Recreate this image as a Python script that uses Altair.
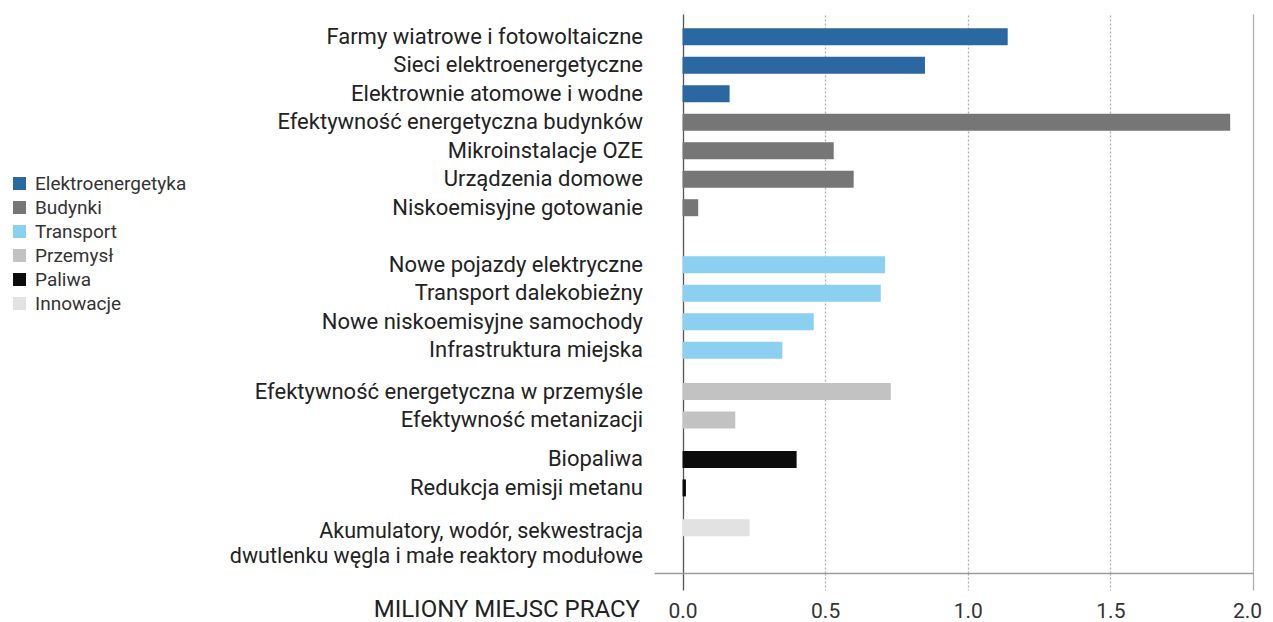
import altair as alt
import pandas as pd

# ---- data ----
categories = [
    "Farmy wiatrowe i fotowoltaiczne",
    "Sieci elektroenergetyczne",
    "Elektrownie atomowe i wodne",
    "Efektywność energetyczna budynków",
    "Mikroinstalacje OZE",
    "Urządzenia domowe",
    "Niskoemisyjne gotowanie",
    "Nowe pojazdy elektryczne",
    "Transport dalekobieżny",
    "Nowe niskoemisyjne samochody",
    "Infrastruktura miejska",
    "Efektywność energetyczna w przemyśle",
    "Efektywność metanizacji",
    "Biopaliwa",
    "Redukcja emisji metanu",
    "Akumulatory, wodór, sekwestracja\ndwutlenku węgla i małe reaktory modułowe",
]
groups = [
    "Elektroenergetyka", "Elektroenergetyka", "Elektroenergetyka",
    "Budynki", "Budynki", "Budynki", "Budynki",
    "Transport", "Transport", "Transport", "Transport",
    "Przemysł", "Przemysł",
    "Paliwa", "Paliwa",
    "Innowacje",
]
values = [1.14, 0.85, 0.165, 1.92, 0.53, 0.60, 0.055,
          0.71, 0.695, 0.46, 0.35, 0.73, 0.185, 0.40, 0.012, 0.235]

group_order = ["Elektroenergetyka", "Budynki", "Transport", "Przemysł", "Paliwa", "Innowacje"]
group_colors = ["#2b67a0", "#767676", "#8bd0f0", "#c2c2c2", "#0b0b0b", "#e2e2e2"]
tick_values = [0, 0.5, 1.0, 1.5, 2.0]
axis_title = "MILIONY MIEJSC PRACY"

# ---- layout: extra blank space (in rows) before each group ----
EXTRA_GAP = {"Elektroenergetyka": 0, "Budynki": 0, "Transport": 1.0,
             "Przemysł": 0.45, "Paliwa": 0.38, "Innowacje": 0.4}

rows = []
pos = 0.0
prev = None
for c, g, v in zip(categories, groups, values):
    if prev is not None:
        pos += 1 + (EXTRA_GAP[g] if g != prev else 0)
    rows.append({"label": c, "group": g, "value": v, "row": pos,
                 "multi": "\n" in c})
    prev = g
df = pd.DataFrame(rows)

W, H = 599, 559
FONT = "Roboto"

yscale = alt.Scale(domain=[-0.62, 18.64], reverse=True, nice=False, zero=False)
xscale = alt.Scale(domain=[-0.1, 2.0], nice=False, zero=False)

cond_color = {"condition": {"test": "datum.value === 0", "value": "#555555"}, "value": "#b0b0b0"}
cond_dash = {"condition": {"test": "datum.value === 0 || datum.value === 2", "value": []}, "value": [2, 2]}
cond_loff = {"condition": {"test": "datum.value === 2", "value": -6}, "value": 0}

bars = alt.Chart(df).mark_bar(orient="horizontal", size=17).encode(
    x=alt.X("value:Q", scale=xscale,
            axis=alt.Axis(values=tick_values, format=".1f", title=None, grid=True,
                          gridColor=cond_color, gridDash=cond_dash, gridWidth=1.3,
                          tickColor=cond_color, tickDash=cond_dash, tickSize=17, tickWidth=1.3,
                          domainColor="#9a9a9a", domainWidth=1.5,
                          labelFont=FONT, labelFontSize=21, labelColor="#333333",
                          labelPadding=10, labelFlush=False, labelOffset=cond_loff)),
    x2=alt.datum(0),
    y=alt.Y("row:Q", scale=yscale, axis=None),
    color=alt.Color("group:N", scale=alt.Scale(domain=group_order, range=group_colors),
                    legend=alt.Legend(title=None, orient="none", legendX=-644, legendY=160,
                                      symbolType="square", symbolSize=170, symbolStrokeWidth=0,
                                      labelFont=FONT, labelFontSize=19, labelColor="#333333",
                                      labelOffset=6, rowPadding=4)),
)

single = alt.Chart(df).transform_filter("!datum.multi").mark_text(
    align="right", baseline="middle", font=FONT, fontSize=22, color="#222222", dy=0).encode(
    x=alt.value(-11),
    y=alt.Y("row:Q", scale=yscale, axis=None),
    text="label:N",
)

multi = alt.Chart(df).transform_filter("datum.multi").mark_text(
    align="right", baseline="middle", font=FONT, fontSize=21.5, color="#222222",
    lineBreak="\n", lineHeight=25, dy=4).encode(
    x=alt.value(-11),
    y=alt.Y("row:Q", scale=yscale, axis=None),
    text="label:N",
)

title = alt.Chart(pd.DataFrame({"t": [axis_title]})).mark_text(
    align="right", baseline="middle", font=FONT, fontSize=24, color="#222222").encode(
    x=alt.value(-14), y=alt.value(596), text="t:N")

chart = alt.layer(bars, single, multi, title).properties(
    width=W, height=H,
    autosize=alt.AutoSizeParams(type="none"),
    padding={"left": 646, "top": 6, "right": 12, "bottom": 50},
    background="white",
).configure_view(stroke=None)

chart.save("out.html", embed_options={"renderer": "svg", "actions": False})
